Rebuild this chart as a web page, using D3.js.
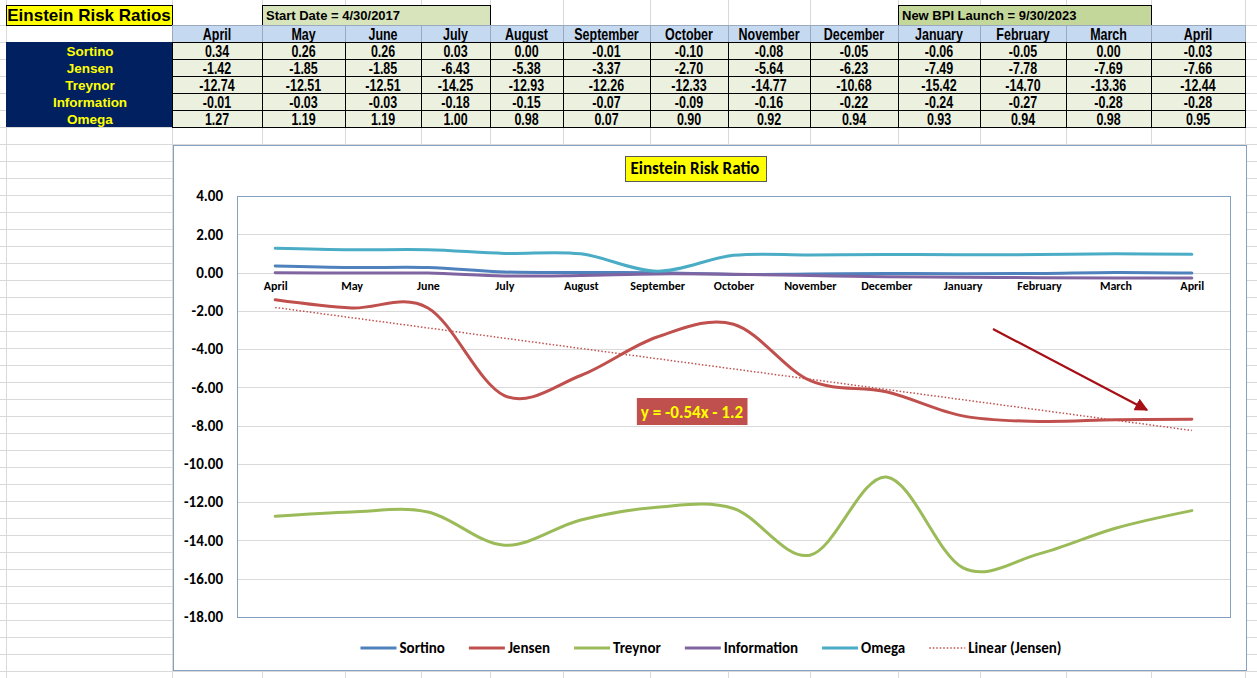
<!DOCTYPE html>
<html>
<head>
<meta charset="utf-8">
<script src="https://cdn.jsdelivr.net/npm/d3@7"></script>
<style>
  body { margin: 0; background: #fff; }
  svg { display: block; }
</style>
</head>
<body>
<script>
// data
var months = ["April", "May", "June", "July", "August", "September", "October",
              "November", "December", "January", "February", "March", "April"];
var ratioNames = ["Sortino", "Jensen", "Treynor", "Information", "Omega"];
var sortino     = [0.34, 0.26, 0.26, 0.03, 0.00, -0.01, -0.10, -0.08, -0.05, -0.06, -0.05, 0.00, -0.03];
var jensen      = [-1.42, -1.85, -1.85, -6.43, -5.38, -3.37, -2.70, -5.64, -6.23, -7.49, -7.78, -7.69, -7.66];
var treynor     = [-12.74, -12.51, -12.51, -14.25, -12.93, -12.26, -12.33, -14.77, -10.68, -15.42, -14.70, -13.36, -12.44];
var information = [-0.01, -0.03, -0.03, -0.18, -0.15, -0.07, -0.09, -0.16, -0.22, -0.24, -0.27, -0.28, -0.28];
var omega       = [1.27, 1.19, 1.19, 1.00, 0.98, 0.07, 0.90, 0.92, 0.94, 0.93, 0.94, 0.98, 0.95];
var yTicks = [4, 2, 0, -2, -4, -6, -8, -10, -12, -14, -16, -18];

var sheetTitle = "Einstein Risk Ratios";
var startDate = "Start Date = 4/30/2017";
var launchDate = "New BPI Launch = 9/30/2023";
var chartTitle = "Einstein Risk Ratio";
var trendLabel = "y = -0.54x - 1.2";

var seriesValues = [sortino, jensen, treynor, information, omega];
var seriesColors = ["#4f81bd", "#c0504d", "#9bbb59", "#8064a2", "#4bacc6"];

// page size
var W = 1257, H = 678;
var chartFont = "Carlito, Lato, 'Open Sans', sans-serif";
var sheetFont = "'Liberation Sans', Arial, sans-serif";

// plain hyphen minus like the sheet does
var fmt2 = function(v) { return d3.format(".2f")(v).replace("\u2212", "-"); };

var svg = d3.select("body")
            .append("svg")
            .attr("width", W)
            .attr("height", H);

svg.append("rect").attr("width", W).attr("height", H).attr("fill", "#fff");

// spreadsheet grid
var colEdges = [172, 262, 345, 421, 490, 563, 650, 728, 810, 898, 980, 1066, 1151, 1245];
var rowTop = 25, rowH = 17;
var grid = svg.append("g").attr("stroke", "#d9d9d9").attr("stroke-width", 1);
[6].concat(colEdges).forEach(function(cx) {
    grid.append("line").attr("x1", cx + 0.5).attr("x2", cx + 0.5).attr("y1", 0).attr("y2", H);
});
for (var ry = rowTop; ry < H; ry += rowH) {
    grid.append("line").attr("x1", 0).attr("x2", W).attr("y1", ry + 0.5).attr("y2", ry + 0.5);
}

// narrow cell text (squeezed Arial-like bold)
function narrowText(g, cx, y, str) {
    return g.append("text")
            .attr("transform", "translate(" + cx + "," + y + ") scale(0.78,1)")
            .attr("text-anchor", "middle")
            .style("font-family", sheetFont).style("font-weight", "bold").style("font-size", "16px")
            .text(str);
}

// table
var table = svg.append("g");

// title cell
table.append("rect").attr("x", 6.5).attr("y", 5.5).attr("width", 166).attr("height", 20)
     .attr("fill", "#ffff00").attr("stroke", "#000");
table.append("text").attr("x", 89).attr("y", 21)
     .attr("text-anchor", "middle")
     .style("font-family", sheetFont).style("font-weight", "bold").style("font-size", "17px")
     .text(sheetTitle);

// date boxes
table.append("rect").attr("x", colEdges[1] + 0.5).attr("y", 5.5)
     .attr("width", colEdges[4] - colEdges[1]).attr("height", 20)
     .attr("fill", "#d8e4bc").attr("stroke", "#000");
table.append("text").attr("x", colEdges[1] + 4).attr("y", 20)
     .style("font-family", sheetFont).style("font-weight", "bold").style("font-size", "13px")
     .text(startDate);
table.append("rect").attr("x", colEdges[9] + 0.5).attr("y", 5.5)
     .attr("width", colEdges[12] - colEdges[9]).attr("height", 20)
     .attr("fill", "#c4d79b").attr("stroke", "#000");
table.append("text").attr("x", colEdges[9] + 4).attr("y", 20)
     .style("font-family", sheetFont).style("font-weight", "bold").style("font-size", "13px")
     .text(launchDate);

// header row
months.forEach(function(m, i) {
    var x0 = colEdges[i], x1 = colEdges[i + 1];
    table.append("rect").attr("x", x0 + 0.5).attr("y", rowTop + 0.5)
         .attr("width", x1 - x0).attr("height", rowH)
         .attr("fill", "#c5d9f1").attr("stroke", "#9aa9bd");
    narrowText(table, (x0 + x1) / 2, rowTop + 14.5, m);
});

// row labels block
table.append("rect").attr("x", 6).attr("y", rowTop + rowH)
     .attr("width", colEdges[0] - 6).attr("height", rowH * 5)
     .attr("fill", "#002060");

ratioNames.forEach(function(name, r) {
    var yTop = rowTop + rowH * (r + 1);
    table.append("text").attr("x", 90).attr("y", yTop + 13.5)
         .attr("text-anchor", "middle")
         .style("font-family", sheetFont).style("font-weight", "bold").style("font-size", "13.5px")
         .attr("fill", "#ffff00")
         .text(name);
    seriesValues[r].forEach(function(v, i) {
        var x0 = colEdges[i], x1 = colEdges[i + 1];
        table.append("rect").attr("x", x0 + 0.5).attr("y", yTop + 0.5)
             .attr("width", x1 - x0).attr("height", rowH)
             .attr("fill", "#ebf1de").attr("stroke", "#000");
        narrowText(table, (x0 + x1) / 2, yTop + 14.5, fmt2(v));
    });
});

// chart object
var chart = svg.append("g");
chart.append("rect").attr("x", 173.5).attr("y", 145.5).attr("width", 1073).attr("height", 525)
     .attr("fill", "#fff").attr("stroke", "#86a0c2");

// chart title
var titleText = chart.append("text").attr("x", 695).attr("y", 174)
     .attr("text-anchor", "middle")
     .style("font-family", chartFont).style("font-weight", "bold").style("font-size", "17px")
     .text(chartTitle);
var tb = titleText.node().getBBox();
chart.insert("rect", "text").attr("x", Math.round(tb.x - 6) + 0.5).attr("y", 156.5)
     .attr("width", Math.round(tb.width + 12)).attr("height", 25)
     .attr("fill", "#ffff00").attr("stroke", "#595959");

var plot = {left: 237, right: 1230, top: 196, bottom: 617};

var xScale = d3.scalePoint()
               .domain(d3.range(months.length))
               .range([plot.left, plot.right])
               .padding(0.5);
var yScale = d3.scaleLinear()
               .domain([d3.min(yTicks), d3.max(yTicks)])
               .range([plot.bottom, plot.top]);

// gridlines
chart.append("g")
     .selectAll("line")
     .data(yTicks)
     .enter()
     .append("line")
     .attr("x1", plot.left).attr("x2", plot.right)
     .attr("y1", function(d) { return Math.round(yScale(d)) + 0.5; })
     .attr("y2", function(d) { return Math.round(yScale(d)) + 0.5; })
     .attr("stroke", "#d9d9d9");

chart.append("rect").attr("x", plot.left + 0.5).attr("y", plot.top + 0.5)
     .attr("width", plot.right - plot.left).attr("height", plot.bottom - plot.top)
     .attr("fill", "none").attr("stroke", "#86a0c2");

// y axis
var yAxis = chart.append("g")
     .attr("transform", "translate(" + plot.left + ",0)")
     .call(d3.axisLeft(yScale).tickValues(yTicks).tickSize(0).tickPadding(14).tickFormat(fmt2));
yAxis.select(".domain").remove();
yAxis.selectAll("text")
     .style("font-family", chartFont).style("font-weight", "bold").style("font-size", "15px")
     .attr("fill", "#000");

// x axis crossing at zero
var xAxis = chart.append("g")
     .attr("transform", "translate(0," + yScale(0) + ")")
     .call(d3.axisBottom(xScale).tickSize(0).tickPadding(9).tickFormat(function(i) { return months[i]; }));
xAxis.select(".domain").remove();
xAxis.selectAll("text")
     .style("font-family", chartFont).style("font-weight", "bold").style("font-size", "12px")
     .attr("fill", "#000");

// smoothed lines
var line = d3.line()
             .x(function(d, i) { return xScale(i); })
             .y(function(d) { return yScale(d); })
             .curve(d3.curveCardinal.tension(0));

seriesValues.forEach(function(vals, k) {
    chart.append("path")
         .datum(vals)
         .attr("d", line)
         .attr("fill", "none")
         .attr("stroke", seriesColors[k])
         .attr("stroke-width", 3)
         .attr("stroke-linecap", "round");
});

// linear trendline for Jensen (least squares, x = 1..n)
var n = jensen.length;
var xs = d3.range(1, n + 1);
var mx = d3.mean(xs), my = d3.mean(jensen);
var sxy = d3.sum(xs, function(xv, i) { return (xv - mx) * (jensen[i] - my); });
var sxx = d3.sum(xs, function(xv) { return (xv - mx) * (xv - mx); });
var slope = sxy / sxx, intercept = my - slope * mx;

chart.append("line")
     .attr("x1", xScale(0)).attr("y1", yScale(slope * 1 + intercept))
     .attr("x2", xScale(n - 1)).attr("y2", yScale(slope * n + intercept))
     .attr("stroke", "#c0504d")
     .attr("stroke-width", 1.5)
     .attr("stroke-dasharray", "1.5,2");

// trendline equation label
var eq = chart.append("text").attr("x", 692).attr("y", 418)
     .attr("text-anchor", "middle")
     .style("font-family", chartFont).style("font-weight", "bold").style("font-size", "17px")
     .attr("fill", "#ffff00")
     .text(trendLabel);
var eb = eq.node().getBBox();
chart.insert("rect", "text").attr("x", eb.x - 4).attr("y", 398)
     .attr("width", eb.width + 8).attr("height", 27)
     .attr("fill", "#c0504d");
eq.raise();

// arrow
var defs = svg.append("defs");
defs.append("marker")
    .attr("id", "arrowHead")
    .attr("viewBox", "0 0 10 10")
    .attr("refX", 9).attr("refY", 5)
    .attr("markerWidth", 6).attr("markerHeight", 6)
    .attr("markerUnits", "strokeWidth")
    .attr("orient", "auto")
    .append("path")
    .attr("d", "M0,0 L10,5 L0,10 Z")
    .attr("fill", "#a50f15");
chart.append("line")
     .attr("x1", 993).attr("y1", 329)
     .attr("x2", 1147).attr("y2", 410)
     .attr("stroke", "#a50f15")
     .attr("stroke-width", 2.2)
     .attr("marker-end", "url(#arrowHead)");

// legend
var legendItems = ratioNames.map(function(nm, k) {
    return {label: nm, color: seriesColors[k], dotted: false};
});
legendItems.push({label: "Linear (Jensen)", color: "#c0504d", dotted: true});

var legend = chart.append("g");
var legendY = 648, sampleW = 36, gap = 24;
var items = legend.selectAll("g")
     .data(legendItems)
     .enter()
     .append("g");
items.append("text")
     .attr("y", legendY + 5)
     .style("font-family", chartFont).style("font-weight", "bold").style("font-size", "15px")
     .attr("fill", "#000")
     .text(function(d) { return d.label; });
var widths = [];
items.each(function() { widths.push(d3.select(this).select("text").node().getComputedTextLength()); });
var total = d3.sum(widths) + legendItems.length * (sampleW + 3) + (legendItems.length - 1) * gap;
var cursor = 711 - total / 2;
items.each(function(d, i) {
    var g = d3.select(this);
    g.append("line")
     .attr("x1", cursor).attr("x2", cursor + sampleW)
     .attr("y1", legendY).attr("y2", legendY)
     .attr("stroke", d.color)
     .attr("stroke-width", d.dotted ? 1.5 : 3)
     .attr("stroke-dasharray", d.dotted ? "1.5,2" : null);
    g.select("text").attr("x", cursor + sampleW + 3);
    cursor += sampleW + 3 + widths[i] + gap;
});
</script>
</body>
</html>
